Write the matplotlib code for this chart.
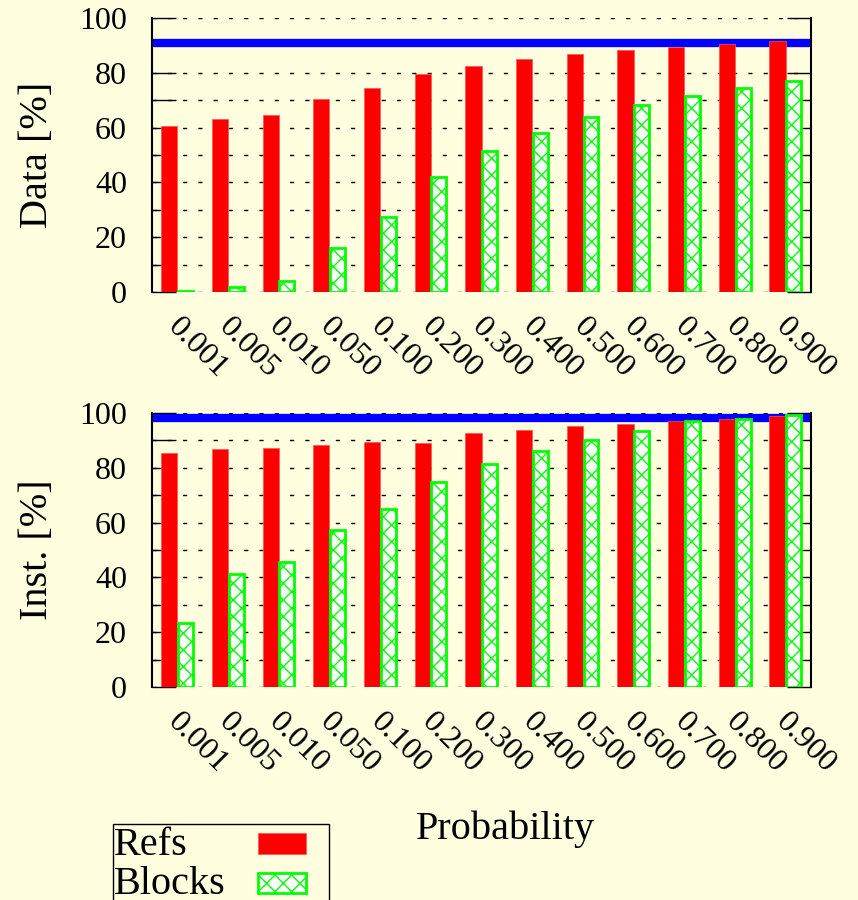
import matplotlib
matplotlib.use("Agg")
import matplotlib.pyplot as plt
import numpy as np
from matplotlib.patches import Rectangle
from matplotlib.ticker import MultipleLocator
from matplotlib.transforms import ScaledTranslation

# values
probs = ['0.001', '0.005', '0.010', '0.050', '0.100', '0.200', '0.300',
         '0.400', '0.500', '0.600', '0.700', '0.800', '0.900']
data_refs = [60.5, 63.1, 64.6, 70.3, 74.5, 79.5, 82.6, 85.0, 86.9, 88.3, 89.5, 90.6, 91.6]
data_blocks = [0.4, 1.9, 4.0, 16.2, 27.5, 41.9, 51.4, 58.2, 63.9, 68.2, 71.6, 74.6, 77.0]
data_line = 90.8
inst_refs = [85.3, 86.9, 87.2, 88.4, 89.5, 88.9, 92.7, 93.9, 95.1, 96.0, 97.1, 97.7, 98.8]
inst_blocks = [23.3, 41.4, 45.8, 57.3, 65.1, 75.0, 81.3, 86.1, 90.3, 93.6, 96.9, 97.9, 99.3]
inst_line = 98.1

bg = '#ffffe0'
plt.rcParams['font.family'] = ['Liberation Serif', 'DejaVu Serif']
plt.rcParams['hatch.linewidth'] = 1.0
plt.rcParams['hatch.color'] = '#00ff00'

fig = plt.figure(figsize=(8.58, 9), dpi=100, facecolor=bg)

x = np.arange(len(probs))
w = 0.32


def panel(rect, refs, blocks, line, ylabel, ycen):
    ax = fig.add_axes(rect)
    ax.set_facecolor(bg)
    ax.set_axisbelow(True)
    ax.bar(x - w / 2, refs, w, color='#ff0000', edgecolor='#ff5050', linewidth=0.5, zorder=2)
    ax.bar(x + w / 2, blocks, w * 0.92, color='white', edgecolor='#00ff00',
           linewidth=2, hatch='xx', zorder=2)
    ax.axhline(line, color='#0000ff', linewidth=6, zorder=1.5)
    ax.set_xlim(-0.5, len(probs) - 0.5)
    ax.set_ylim(0, 100)
    ax.yaxis.set_major_locator(MultipleLocator(20))
    ax.yaxis.set_minor_locator(MultipleLocator(10))
    ax.grid(axis='y', which='both', color='black', linestyle=(0, (3, 8)), linewidth=1, zorder=0.5)
    ax.tick_params(axis='y', which='both', direction='in', length=17, width=1,
                   left=True, right=True, labelsize=23, pad=18)
    ax.set_xticks(x)
    ax.set_xticklabels(probs, rotation=-45, ha='left', va='top', rotation_mode='anchor')
    ax.tick_params(axis='x', length=0, labelsize=23, pad=13)
    shift = ScaledTranslation(5 / 100, -2 / 100, fig.dpi_scale_trans)
    for lab in ax.get_xticklabels():
        lab.set_transform(lab.get_transform() + shift)
    for s in ['top', 'bottom']:
        ax.spines[s].set_visible(False)
    for s in ['left', 'right']:
        ax.spines[s].set_linewidth(1.5)
    fig.text(38 / 858, ycen, ylabel, rotation=90, ha='center', va='center', fontsize=29)
    return ax


panel([152 / 858, 1 - 292 / 900, 659 / 858, 274 / 900], data_refs, data_blocks, data_line,
      'Data [%]', 1 - 155 / 900)
panel([152 / 858, 1 - 687 / 900, 659 / 858, 274 / 900], inst_refs, inst_blocks, inst_line,
      'Inst. [%]', 1 - 550 / 900)

fig.text(505 / 858, 1 - 839 / 900, 'Probability', ha='center', va='baseline', fontsize=29)

# legend, partly cut by the bottom edge as in the reference
fig.patches.append(Rectangle((113 / 858, -0.02), 216 / 858, 0.02 + 76 / 900,
                             transform=fig.transFigure, facecolor=bg,
                             edgecolor='black', linewidth=1))
fig.text(114 / 858, 1 - 855 / 900, 'Refs', ha='left', va='baseline', fontsize=29)
fig.text(114 / 858, 1 - 894 / 900, 'Blocks', ha='left', va='baseline', fontsize=29)
fig.patches.append(Rectangle((258 / 858, 1 - 854 / 900), 48 / 858, 21 / 900,
                             transform=fig.transFigure, facecolor='#ff0000',
                             edgecolor='#ff5050', linewidth=0.5))
fig.patches.append(Rectangle((258 / 858, 1 - 893 / 900), 48 / 858, 20 / 900,
                             transform=fig.transFigure, facecolor='white',
                             edgecolor='#00ff00', linewidth=2, hatch='xx'))

fig.savefig('out.png', dpi=100, facecolor=bg)
